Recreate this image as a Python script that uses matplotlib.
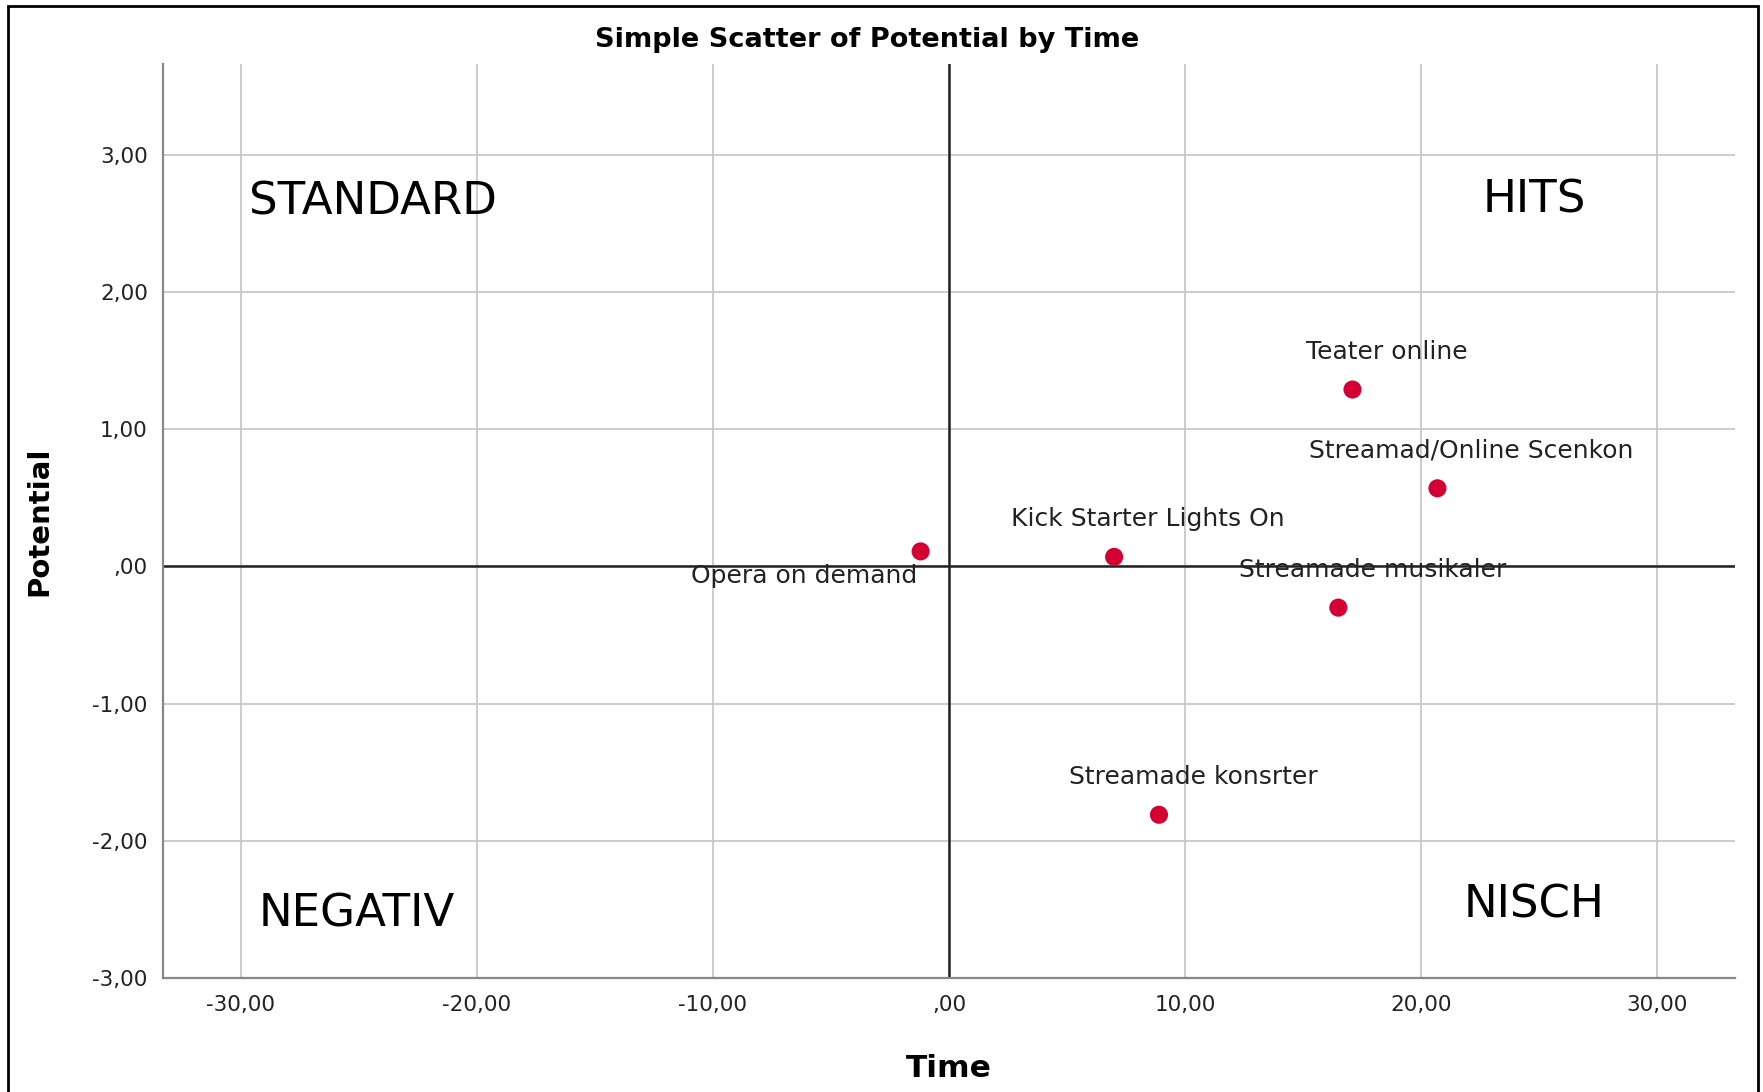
import matplotlib
matplotlib.use('Agg')
import matplotlib.pyplot as plt
from matplotlib.patches import Rectangle
from matplotlib.ticker import FuncFormatter

# data
names = ['Opera on demand', 'Kick Starter Lights On', 'Teater online',
         'Streamad/Online Scenkon', 'Streamade musikaler', 'Streamade konsrter']
time = [-1.2, 7.0, 17.1, 20.7, 16.5, 8.9]
potential = [0.11, 0.07, 1.29, 0.57, -0.30, -1.81]

quadrants = ['STANDARD', 'HITS', 'NEGATIV', 'NISCH']
quad_x = [-24.4, 24.8, -25.1, 24.8]
quad_y = [2.66, 2.67, -2.53, -2.47]

xticks = [-30, -20, -10, 0, 10, 20, 30]
yticks = [-3, -2, -1, 0, 1, 2, 3]


def spss_fmt(v, pos):
    s = '%.2f' % v
    s = s.replace('.', ',')
    if s.startswith('0,'):
        s = s[1:]
    if s == '-0,00':
        s = ',00'
    return s


plt.rcParams['font.family'] = ['DejaVu Sans']

fig = plt.figure(figsize=(17.63, 10.92), dpi=100)
ax = fig.add_axes([0.0925, 0.1044, 0.8915, 0.8366])

ax.set_xlim(-33.3, 33.3)
ax.set_ylim(-3.0, 3.66)
ax.set_xticks(xticks)
ax.set_yticks(yticks)
ax.xaxis.set_major_formatter(FuncFormatter(spss_fmt))
ax.yaxis.set_major_formatter(FuncFormatter(spss_fmt))
ax.tick_params(length=0, labelsize=15.5, labelcolor='#222222')
ax.tick_params(axis='y', pad=11)
ax.tick_params(axis='x', pad=12)

ax.grid(True, color='#c8c8c8', lw=1.3)
ax.set_axisbelow(True)
for s in ['top', 'right']:
    ax.spines[s].set_visible(False)
for s in ['left', 'bottom']:
    ax.spines[s].set_color('#888888')
    ax.spines[s].set_linewidth(1.6)

ax.axvline(0, color='#222222', lw=1.8, zorder=2)
ax.axhline(0, color='#222222', lw=1.8, zorder=2)

ax.scatter(time, potential, s=170, color='#d50032', zorder=3, edgecolors='none')

for n, x, y in zip(names, time, potential):
    if n == 'Opera on demand':
        ax.annotate(n, (x, y), xytext=(-3, -25), textcoords='offset pixels',
                    ha='right', va='center', fontsize=18, color='#222222')
    else:
        ax.annotate(n, (x, y), xytext=(34, 38), textcoords='offset pixels',
                    ha='center', va='center', fontsize=18, color='#222222')

for q, x, y in zip(quadrants, quad_x, quad_y):
    ax.text(x, y, q, ha='center', va='center', fontsize=32.5, color='black')

ax.set_xlabel('Time', fontsize=22.5, fontweight='bold', labelpad=28)
ax.set_ylabel('Potential', fontsize=21, fontweight='bold', labelpad=28)

fig.text(0.492, 0.963, 'Simple Scatter of Potential by Time', ha='center',
         va='center', fontsize=19.5, fontweight='bold')

fig.patches.append(Rectangle((0.0045, -0.01), 0.9925, 1.0045, transform=fig.transFigure,
                             fill=False, edgecolor='black', lw=2))

fig.savefig('out.png', dpi=100)
